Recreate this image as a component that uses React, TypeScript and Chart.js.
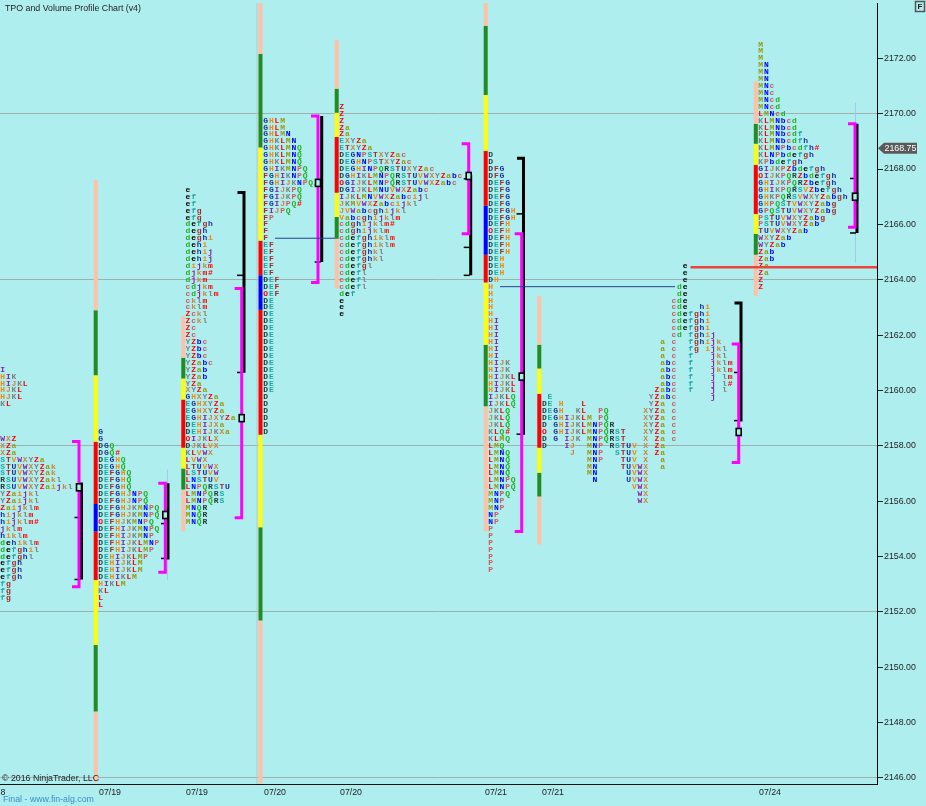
import React, { useEffect, useRef } from "react";
import { Chart, registerables } from "chart.js";

Chart.register(...registerables);

const priceTicks = [2146, 2148, 2150, 2152, 2154, 2156, 2158, 2160, 2162, 2164, 2166, 2168, 2170, 2172];
const gridPrices = [2146, 2152, 2158, 2164, 2170];
const dayLabels = ["8", "07/19", "07/19", "07/20", "07/20", "07/21", "07/21", "07/24"];
const dayLabelSlots = [3, 110, 197, 275, 351, 496, 553, 770];
const lastPrice = 2168.75;

const profileARows = ["I", "HIK", "HIJKL", "HJKL", "HJKL", "KL", "", "", "", "", "WXZ", "XZa", "XZa", "STVWXYZa", "STUVWXYZak", "STUVWXYZak", "RSUVWXYZakl", "RSUVWXYZaijkl", "YZaijkl", "YZaijkl", "Zaijklm", "hijklm", "hijklm#", "jklm", "hiklm", "dehiklm", "defghil", "defghl", "efgh", "efgh", "efgh", "fg", "fg", "fg"];
const profileBRows = ["G", "G", "DGQ", "DGQ#", "DEGHQ", "DEGHQ", "DEFGHQ", "DEFGHQ", "DEFGHQ", "DEFGHJNPQ", "DEFGHJNPQ", "DEFGHJKMNPQ", "DEFGHJKMNPQ", "OEFHJKMNPQ", "DEFHIJKMNPQ", "DEFHIJKMNP", "DEFHIJKLMNP", "DEFHIJKLMP", "DEHIJKLMP", "DEHIJKLM", "DEHIJKLM", "DEHIKLM", "HIKLM", "KL", "L", "L"];
const profileCRows = ["e", "ef", "ef", "efg", "efg", "defgh", "degh", "deghi", "dehi", "dehij", "dehij", "dijkm", "djkm#", "djkm", "cdjkm", "cdjklm", "cklm", "cklm", "Zckl", "Zckl", "Zc", "Zc", "YZbc", "YZbc", "YZbc", "YZabc", "YZab", "YZab", "YZa", "XYZa", "GHXYZa", "EGHXYZa", "EGHXYZa", "EGHIJXYZa", "DEHIJXa", "DEHIJKXa", "OIJKLX", "DJKLVX", "KLVWX", "LVWX", "LTUVWX", "LSTUVW", "LNSTUV", "LNPQRSTU", "LMNPQRS", "LMNPQRS", "MNQR", "MNQR", "MNQR"];
const profileDRows = ["GHLM", "GHLM", "GHLMN", "GHKLMN", "GHKLMNQ", "GHKLMNQ", "GHKLMNQ", "GHIKMNPQ", "FGHIKNPQ", "FGHIJKNPQ", "FGIJKPQ", "FGIJKPQ", "FGIJPQ#", "FIJPQ", "FP", "F", "F", "F", "EF", "EF", "EF", "EF", "EF", "DEF", "DEF", "OEF", "DE", "DE", "DE", "DE", "DE", "DE", "DE", "DE", "DE", "DE", "DE", "DE", "DE", "DE", "D", "D", "D", "D", "D", "D"];
const profileERows = ["Z", "Z", "Z", "Za", "Za", "EXYZa", "ETXYZa", "DEGNPSTXYZac", "DEGHNPSTXYZac", "DEGHINPQRSTUXYZac", "DGHIKLMNPQRSTUVWXYZabc", "OGIJKLMNPQRSTUVWXZabc", "DGIJKLMNUVWXZabc", "IJKLMNVWXZabcijl", "JKMVWXZabcijkl", "JVWabcghijkl", "Vabcghijklm", "cdghijklm#", "cdghijklm", "cdefghiklm", "cdefghiklm", "cdefghkl", "cdefghkl", "cdefgl", "cdefl", "cdefl", "cdefl", "def", "e", "e", "e"];
const profileFRows = ["D", "D", "DFG", "DFG", "DEFG", "DEFG", "DEFG", "DEFG", "DEFGH", "DEFGH", "DEFH", "OEFH", "DEFH", "DEFH", "DEFH", "DEH", "DEH", "DEH", "DH", "H", "H", "H", "H", "H", "HI", "HI", "HI", "HI", "HI", "HI", "HIJK", "HIJK", "HIJKL", "HIJKL", "HIJKL", "IJKLQ", "IJKLQ", "JKLQ", "JKLQ", "JKLQ", "KLQ#", "KLMQ", "LMQ", "LMNQ", "LMNQ", "LMNQ", "LMNQ", "LMNPQ", "LMNPQ", "MNPQ", "MNP", "MNP", "NP", "NP", "P", "P", "P", "P", "P", "P", "P"];
const profileGRows = ["e", "e", "e", "de", "de", "cde", "cdehi", "cdefghi", "cdefghi", "cdefghi", "cdfghij", "acfghijk", "acfgijkl", "acfjkl", "abcfjklm", "abcfjklm", "abcfjlm", "abcfjl#", "Zabcfjl", "EYZabcj", "DEHLYZac", "DEGHKLPQXYZac", "DEGHIJKLMPQXYZac", "DGHIJKLMNPQRXYZac", "OGHIJKLMNPQRSTXYZac", "DGIJKMNPQRSTXZac", "DIJMNPRSTUVXZa", "JMNPSTUVXZa", "MNPTUVXa", "MNTUVWXa", "MNUVWX", "NUVWX", "VWX", "WX", "WX"];
const profileHRows = ["M", "M", "M", "MN", "MN", "MN", "MNc", "MNc", "MNcd", "MNcd", "LMNcd", "KLMNbcd", "KLMNbcd", "KLMNbcdf", "KLMNbcdfh", "KLMNPbcdfh#", "KLNPbdefgh", "KPbdefgh", "GIJKPZbdefgh", "OIJKPQRZbdefgh", "GHIJKPQRZbefgh", "GHIKPQRSVZbefgh", "GHKPQRSVWXYZabgh", "GHPQSTVWXYZabg", "GPQSTUVWXYZabg", "PSTUVWXYZabg", "PSTUVWXYZab", "TUVWXYZab", "WXYZab", "WYZab", "Zab", "Zab", "Za", "Za", "Z", "Z"];
const profileTops = [2160.75, 2158.5, 2167.25, 2169.75, 2170.25, 2168.5, 2164.5, 2172.5];
const profileSlots = [2.7, 100.7, 188, 265.7, 341.7, 490.7, 544.3, 760.7];
const columnOrder = "DEGHIJKLMNPQRSTUVWXYZabcdefghijklm";
const colourOrder = "DEFGHIJKLMNPQRSTUVWXYZabcdefghijklm";

const strip1 = [2167.6, 2162.9, 2160.55, 2158.15, 2155.9, 2154.9, 2153.15, 2150.8, 2148.4, 2145.85];
const strip2 = [2162.68, 2161.18, 2160.43, 2159.67, 2157.93, 2157.18, 2156.42, 2154.91];
const strip3 = [2174, 2172.16, 2168.78, 2165.41, 2164.16, 2162.92, 2158.4, 2155.06, 2151.69, 2145.8];
const strip4 = [2172.66, 2170.9, 2170.03, 2169.16, 2167.14, 2166.27, 2165.48, 2163.68];
const strip5 = [2174, 2173.17, 2170.68, 2168.66, 2166.67, 2164.9, 2163.9, 2161.65, 2159.43, 2154.91];
const strip6 = [2163.4, 2161.65, 2160.79, 2159.88, 2157.93, 2157.03, 2156.17, 2154.43];
const strip7 = [2171.16, 2169.63, 2168.91, 2168.15, 2166.38, 2165.66, 2164.9, 2163.42];
const stripSlots = [95.7, 183.3, 260.5, 336.7, 485.7, 539.3, 755.8];

const magentaHigh = [2158.16, 2156.65, 2163.68, 2169.92, 2168.91, 2165.66, 2161.68, 2169.64];
const magentaLow = [2152.91, 2153.43, 2155.4, 2163.9, 2165.66, 2154.9, 2157.4, 2165.9];
const magentaSlots = [79, 165.3, 241.7, 318, 468.7, 521.7, 738.7, 855];
const blackHigh = [2156.67, 2156.65, 2167.15, 2169.92, 2167.79, 2168.39, 2163.16, 2169.64];
const blackLow = [2153.17, 2153.89, 2160.64, 2164.64, 2164.16, 2158.4, 2158.88, 2165.69];
const blackSlots = [81.5, 168, 244, 321.7, 470.7, 523.5, 741, 857];
const blackMarks = [
  [2155.41, 2153.17],
  [2155.19, 2153.93],
  [2164.16, 2160.65],
  [2167.43, 2164.64],
  [2167.65, 2165.17, 2164.16],
  [2166.38, 2158.42],
  [2160.65, 2158.91],
  [2167.66, 2165.69],
];
const pocPrices = [2156.5, 2155.5, 2159, 2167.5, 2167.75, 2160.5, 2158.5, 2167];
const nakedPocPrices = [2165.5, 2163.75];
const nakedPocFrom = [275, 500];
const nakedPocTo = [335, 675];
const openPriceLine = 2164.45;

const LETTER_COLORS = ["#1f3d3d", "#1fa5a5", "#a52a2a", "#1c2f9c", "#f08a10", "#8b22a0", "#cd853f", "#808080", "#ff0000", "#9a9a10", "#0000ff", "#cd5c5c", "#22b022"];
const letterColor = (ch: string) => {
  if (ch === "O" || ch === "#") return "#ff0000";
  if (ch === "e") return "#000000";
  const i = colourOrder.indexOf(ch);
  return LETTER_COLORS[i % 13];
};
const PEACH = "#ffc0a6";
const GREEN = "#228b22";
const YELLOW = "#ffff00";
const RED = "#ff0000";
const BLUE = "#0000ff";
const NINE = [PEACH, GREEN, YELLOW, RED, BLUE, RED, YELLOW, GREEN, PEACH];
const SEVEN = [PEACH, GREEN, YELLOW, RED, YELLOW, GREEN, PEACH];

const profiles = [profileARows, profileBRows, profileCRows, profileDRows, profileERows, profileFRows, profileGRows, profileHRows];
const LETTER_PITCH = 5.63;

const line = (pts: { x: number; y: number }[], color: string, width: number, order: number) => ({
  type: "scatter" as const,
  data: pts,
  showLine: true,
  borderColor: color,
  backgroundColor: color,
  borderWidth: width,
  pointRadius: 0,
  tension: 0,
  order,
  borderCapStyle: "butt" as const,
  borderJoinStyle: "miter" as const,
});

function buildDatasets() {
  const out: any[] = [];
  const strips = [strip1, strip2, strip3, strip4, strip5, strip6, strip7];
  out.push(line([{ x: 257, y: 2174 }, { x: 257, y: 2145.78 }], "rgba(185,200,200,0.75)", 1.5, 9));
  out.push(line([{ x: 167.5, y: 2157.14 }, { x: 167.5, y: 2153.17 }], "rgba(160,200,235,0.8)", 1, 9));
  out.push(line([{ x: 855.5, y: 2170.39 }, { x: 855.5, y: 2164.65 }], "rgba(160,200,235,0.8)", 1, 9));
  strips.forEach((s, si) => {
    const colors = s.length === 10 ? NINE : SEVEN;
    for (let i = 0; i < s.length - 1; i++) {
      out.push(line([{ x: stripSlots[si], y: s[i] }, { x: stripSlots[si], y: s[i + 1] }], colors[i], 4, 5));
    }
  });
  // black brackets
  blackSlots.forEach((x, i) => {
    const tabTop = i === 2 || i === 5 || i === 6;
    const pts = tabTop ? [{ x: x - 6.5, y: blackHigh[i] }, { x, y: blackHigh[i] }, { x, y: blackLow[i] }] : [{ x, y: blackHigh[i] }, { x, y: blackLow[i] }];
    out.push(line(pts, "#000000", 3, 3));
    blackMarks[i].forEach((m) => {
      out.push(line([{ x: x - 7, y: m }, { x: x - 1, y: m }], "#000000", 1.5, 3));
    });
  });
  // magenta brackets
  magentaSlots.forEach((x, i) => {
    out.push(
      line(
        [
          { x: x - 7, y: magentaHigh[i] },
          { x, y: magentaHigh[i] },
          { x, y: magentaLow[i] },
          { x: x - 7, y: magentaLow[i] },
        ],
        "#ff00ff",
        3,
        2
      )
    );
  });
  nakedPocPrices.forEach((p, i) => {
    out.push(line([{ x: nakedPocFrom[i], y: p }, { x: nakedPocTo[i], y: p }], "#27408b", 1, 1));
  });
  out.push(line([{ x: 690.5, y: openPriceLine }, { x: 877, y: openPriceLine }], "#ee4438", 2.5, 1));
  return out;
}

const decorations = {
  id: "tpoDecorations",
  beforeDatasetsDraw(chart: any) {
    const { ctx, scales } = chart;
    const xs = scales.x;
    const ys = scales.y;
    ctx.save();
    ctx.font = 'bold 8px "Liberation Mono"';
    ctx.textAlign = "center";
    ctx.textBaseline = "middle";
    profiles.forEach((rows, pi) => {
      rows.forEach((row, ri) => {
        const y = ys.getPixelForValue(profileTops[pi] - ri * 0.25);
        [...row].forEach((ch, ci) => {
          let col = ci;
          if (pi === 6) {
            col = ch === "O" ? 0 : ch === "#" ? columnOrder.indexOf("m") : columnOrder.indexOf(ch);
          }
          ctx.fillStyle = letterColor(ch);
          ctx.fillText(ch, xs.getPixelForValue(profileSlots[pi] + col * LETTER_PITCH), y);
        });
      });
    });
    ctx.restore();
  },
  afterDatasetsDraw(chart: any) {
    const { ctx, scales } = chart;
    const xs = scales.x;
    const ys = scales.y;
    ctx.save();
    magentaSlots.forEach((x, i) => {
      const px = xs.getPixelForValue(x);
      const py = ys.getPixelForValue(pocPrices[i]);
      ctx.fillStyle = "#afeeee";
      ctx.strokeStyle = "#000000";
      ctx.lineWidth = 1.6;
      ctx.fillRect(px - 2.5, py - 3.5, 5, 7);
      ctx.strokeRect(px - 2.5, py - 3.5, 5, 7);
    });
    ctx.restore();
  },
  afterDraw(chart: any) {
    const { ctx, scales } = chart;
    const ys = scales.y;
    ctx.save();
    // last price flag
    const py = ys.getPixelForValue(lastPrice);
    ctx.fillStyle = "#5a5a5a";
    ctx.beginPath();
    ctx.moveTo(878, py);
    ctx.lineTo(884, py - 5.5);
    ctx.lineTo(917, py - 5.5);
    ctx.lineTo(917, py + 5.5);
    ctx.lineTo(884, py + 5.5);
    ctx.closePath();
    ctx.fill();
    ctx.fillStyle = "#ffffff";
    ctx.font = '8.8px "Liberation Sans"';
    ctx.textBaseline = "middle";
    ctx.textAlign = "left";
    ctx.fillText(lastPrice.toFixed(2), 884.5, py + 0.5);

    ctx.fillStyle = "#222222";
    ctx.font = '8.8px "Liberation Sans"';
    ctx.textBaseline = "middle";
    ctx.fillText("TPO and Volume Profile Chart (v4)", 5, 9);
    ctx.fillText("\u00a9 2016 NinjaTrader, LLC", 2, 779);
    ctx.fillStyle = "#3a8fc4";
    ctx.fillText("Final - www.fin-alg.com", 3, 800);

    // F button
    ctx.strokeStyle = "#555555";
    ctx.lineWidth = 1.5;
    ctx.strokeRect(915.5, 1.5, 9, 10);
    ctx.fillStyle = "#222222";
    ctx.font = 'bold 8px "Liberation Sans"';
    ctx.textAlign = "center";
    ctx.fillText("F", 920, 7);
    ctx.restore();
  },
};

const noPadding = (s: any) => {
  s.paddingTop = 0;
  s.paddingBottom = 0;
  s.paddingLeft = 0;
  s.paddingRight = 0;
};

export default function App() {
  const ref = useRef<HTMLCanvasElement>(null);
  useEffect(() => {
    document.body.style.margin = "0";
    document.body.style.background = "#afeeee";
    const chart = new Chart(ref.current as HTMLCanvasElement, {
      type: "scatter",
      data: { datasets: buildDatasets() },
      plugins: [decorations],
      options: {
        animation: false,
        responsive: false,
        devicePixelRatio: 1,
        layout: { padding: { top: 3, left: 0, right: 0, bottom: 0 } },
        plugins: { legend: { display: false }, tooltip: { enabled: false }, title: { display: false } },
        scales: {
          x: {
            type: "linear",
            min: 0,
            max: 877,
            afterBuildTicks: (s: any) => {
              s.ticks = dayLabelSlots.map((value) => ({ value }));
            },
            afterFit: (s: any) => {
              s.height = 22;
              noPadding(s);
            },
            grid: { display: false, drawTicks: false },
            border: { display: true, color: "#111111", width: 1 },
            ticks: {
              autoSkip: false,
              maxRotation: 0,
              padding: 3,
              color: "#222222",
              font: { family: '"Liberation Sans"', size: 8.8 },
              callback: (v: any) => dayLabels[dayLabelSlots.indexOf(Number(v))],
            },
          },
          y: {
            type: "linear",
            position: "right",
            min: 2145.78,
            max: 2174,
            afterBuildTicks: (s: any) => {
              s.ticks = priceTicks.map((value) => ({ value }));
            },
            afterFit: (s: any) => {
              s.width = 49;
              noPadding(s);
            },
            grid: {
              color: (c: any) => (gridPrices.includes(c.tick?.value) ? "#9fb0b0" : "rgba(0,0,0,0)"),
              tickColor: "#222222",
              tickLength: 6,
              lineWidth: 1,
            },
            border: { display: true, color: "#000000", width: 1 },
            ticks: {
              autoSkip: false,
              padding: 1,
              color: "#222222",
              font: { family: '"Liberation Sans"', size: 8.8 },
              callback: (v: any) => Number(v).toFixed(2),
            },
          },
        },
      },
    } as any);
    return () => chart.destroy();
  }, []);
  return (
    <div style={{ width: 926, height: 806, overflow: "hidden", background: "#afeeee" }}>
      <canvas ref={ref} width={926} height={806} style={{ display: "block" }} />
    </div>
  );
}
